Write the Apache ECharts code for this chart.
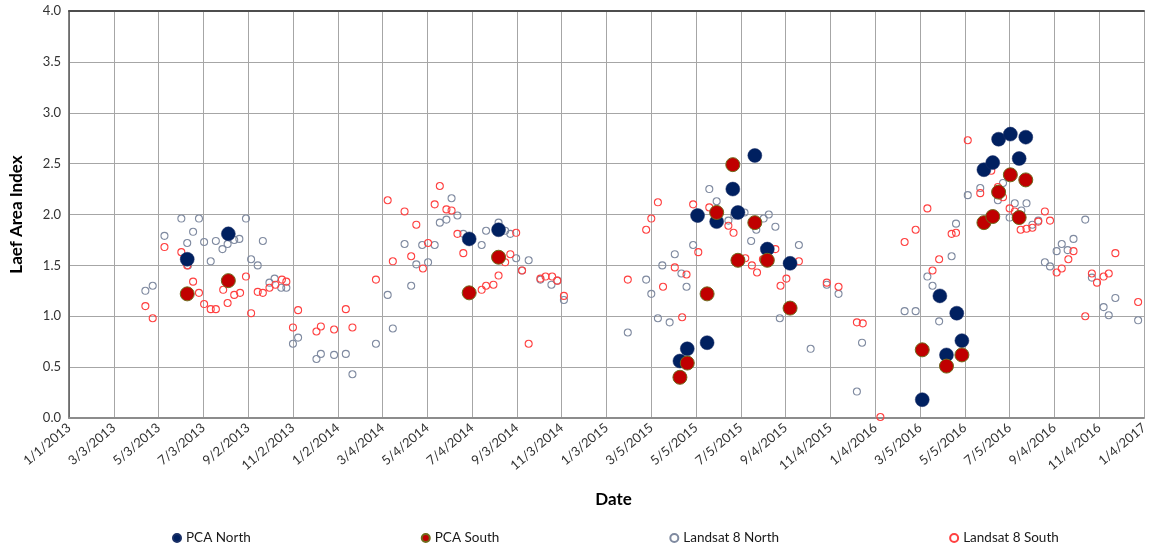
<!DOCTYPE html>
<html>
<head>
<meta charset="utf-8">
<script src="https://cdn.jsdelivr.net/npm/echarts@6/dist/echarts.min.js"></script>
<style>
  html, body { margin: 0; padding: 0; background: #ffffff; }
  #chart { width: 1153px; height: 555px; }
</style>
</head>
<body>
<div id="chart"></div>
<script>
// Leaf area index: PCA estimates and Landsat 8 retrievals, north and south sites.

const pcaNorthDates = ['2013-06-11','2013-08-06','2014-06-30','2014-08-09',
  '2015-04-13','2015-04-23','2015-05-07','2015-05-20','2015-06-02','2015-06-24','2015-07-01','2015-07-24','2015-08-10','2015-09-10',
  '2016-03-08','2016-04-01','2016-04-10','2016-04-24','2016-05-01','2016-05-31','2016-06-12','2016-06-20','2016-07-06','2016-07-18','2016-07-27'];
const pcaNorthLai = [1.56,1.81,1.76,1.85,
  0.56,0.68,1.99,0.74,1.93,2.25,2.02,2.58,1.66,1.52,
  0.18,1.20,0.62,1.03,0.76,2.44,2.51,2.74,2.79,2.55,2.76];

const pcaSouthDates = ['2013-06-11','2013-08-06','2014-06-30','2014-08-09',
  '2015-04-13','2015-04-23','2015-05-20','2015-06-02','2015-06-24','2015-07-01','2015-07-24','2015-08-10','2015-09-10',
  '2016-03-08','2016-04-10','2016-05-01','2016-05-31','2016-06-12','2016-06-20','2016-07-06','2016-07-18','2016-07-27'];
const pcaSouthLai = [1.22,1.35,1.23,1.58,
  0.40,0.54,1.22,2.02,2.49,1.55,1.92,1.55,1.08,
  0.67,0.51,0.62,1.92,1.98,2.22,2.39,1.97,2.34];

const landsatNorthDates = [
  '2013-04-15','2013-04-25','2013-05-11','2013-06-03','2013-06-11','2013-06-12','2013-06-19','2013-06-27','2013-07-04','2013-07-13','2013-07-20','2013-07-29','2013-08-05','2013-08-14','2013-08-21','2013-08-30','2013-09-06','2013-09-15','2013-09-22','2013-10-01','2013-10-08','2013-10-17','2013-10-24','2013-11-02','2013-11-09','2013-12-04','2013-12-10','2013-12-28',
  '2014-01-13','2014-01-22','2014-02-23','2014-03-11','2014-03-18','2014-04-03','2014-04-12','2014-04-19','2014-04-27','2014-05-05','2014-05-14','2014-05-21','2014-05-30','2014-06-06','2014-06-14','2014-06-22','2014-07-17','2014-07-23','2014-08-09','2014-08-18','2014-08-25','2014-09-02','2014-09-10','2014-09-19','2014-10-05','2014-10-20','2014-10-28','2014-11-06',
  '2015-02-01','2015-02-26','2015-03-05','2015-03-14','2015-03-20','2015-03-30','2015-04-06','2015-04-15','2015-04-22','2015-05-01','2015-05-08','2015-05-23','2015-06-02','2015-06-18','2015-06-26','2015-07-10','2015-07-19','2015-07-26','2015-08-05','2015-08-12','2015-08-21','2015-08-27','2015-09-06','2015-09-22','2015-10-08','2015-10-30','2015-11-15','2015-12-10','2015-12-17',
  '2016-02-13','2016-02-28','2016-03-15','2016-03-22','2016-03-31','2016-04-17','2016-04-23','2016-05-09','2016-05-26','2016-06-10','2016-06-19','2016-06-26','2016-07-05','2016-07-12','2016-07-21','2016-07-28','2016-08-05','2016-08-13','2016-08-22','2016-08-29','2016-09-07','2016-09-14','2016-09-22','2016-09-30','2016-10-16','2016-10-25','2016-11-10','2016-11-17','2016-11-26','2016-12-27'];
const landsatNorthLai = [
  1.25,1.30,1.79,1.96,1.72,1.50,1.83,1.96,1.73,1.54,1.74,1.66,1.71,1.75,1.76,1.96,1.56,1.50,1.74,1.33,1.37,1.28,1.28,0.73,0.79,0.58,0.63,0.62,
  0.63,0.43,0.73,1.21,0.88,1.71,1.30,1.51,1.70,1.53,1.70,1.92,1.95,2.16,1.99,1.81,1.70,1.84,1.92,1.84,1.81,1.57,1.45,1.55,1.36,1.31,1.35,1.16,
  0.84,1.36,1.22,0.98,1.50,0.94,1.61,1.42,1.29,1.70,1.96,2.25,2.13,1.94,1.99,2.02,1.74,1.85,1.96,2.00,1.88,0.98,1.52,1.70,0.68,1.31,1.22,0.26,0.74,
  1.05,1.05,1.39,1.30,0.95,1.59,1.91,2.19,2.26,2.51,2.14,2.31,1.97,2.11,2.04,2.11,1.90,1.94,1.53,1.49,1.64,1.71,1.65,1.76,1.95,1.38,1.09,1.01,1.18,0.96];

const landsatSouthDates = [
  '2013-04-15','2013-04-25','2013-05-11','2013-06-03','2013-06-11','2013-06-19','2013-06-27','2013-07-04','2013-07-13','2013-07-20','2013-07-30','2013-08-05','2013-08-14','2013-08-22','2013-08-30','2013-09-06','2013-09-15','2013-09-22','2013-10-01','2013-10-09','2013-10-18','2013-10-24','2013-11-02','2013-11-09','2013-12-04','2013-12-10','2013-12-28',
  '2014-01-13','2014-01-22','2014-02-23','2014-03-11','2014-03-18','2014-04-03','2014-04-12','2014-04-19','2014-04-28','2014-05-05','2014-05-14','2014-05-21','2014-05-30','2014-06-06','2014-06-14','2014-06-22','2014-07-17','2014-07-23','2014-08-02','2014-08-09','2014-08-18','2014-08-25','2014-09-02','2014-09-10','2014-09-19','2014-10-05','2014-10-12','2014-10-21','2014-10-28','2014-11-06',
  '2015-02-01','2015-02-26','2015-03-05','2015-03-14','2015-03-21','2015-04-06','2015-04-16','2015-04-22','2015-05-01','2015-05-08','2015-05-23','2015-06-18','2015-06-25','2015-07-11','2015-07-20','2015-07-27','2015-08-04','2015-08-21','2015-08-28','2015-09-05','2015-09-22','2015-10-30','2015-11-15','2015-12-10','2015-12-18',
  '2016-01-11','2016-02-13','2016-02-28','2016-03-15','2016-03-22','2016-03-31','2016-04-17','2016-04-23','2016-05-09','2016-05-26','2016-06-10','2016-06-19','2016-06-26','2016-07-05','2016-07-12','2016-07-20','2016-07-28','2016-08-05','2016-08-13','2016-08-22','2016-08-29','2016-09-07','2016-09-14','2016-09-23','2016-09-30','2016-10-16','2016-10-25','2016-11-01','2016-11-10','2016-11-17','2016-11-26','2016-12-27'];
const landsatSouthLai = [
  1.10,0.98,1.68,1.63,1.50,1.34,1.23,1.12,1.07,1.07,1.26,1.13,1.21,1.23,1.39,1.03,1.24,1.23,1.28,1.31,1.36,1.34,0.89,1.06,0.85,0.90,0.87,
  1.07,0.89,1.36,2.14,1.54,2.03,1.59,1.90,1.47,1.72,2.10,2.28,2.05,2.04,1.81,1.62,1.26,1.30,1.31,1.40,1.53,1.61,1.82,1.45,0.73,1.37,1.39,1.39,1.35,1.20,
  1.36,1.85,1.96,2.12,1.29,1.48,0.99,1.41,2.10,1.63,2.07,1.89,1.82,1.57,1.50,1.43,1.56,1.66,1.30,1.37,1.54,1.33,1.29,0.94,0.93,
  0.01,1.73,1.85,2.06,1.45,1.56,1.81,1.82,2.73,2.21,2.43,2.27,2.17,2.06,2.03,1.85,1.86,1.87,1.93,2.03,1.94,1.43,1.47,1.56,1.64,1.00,1.42,1.33,1.39,1.42,1.62,1.14];

// Date axis: days counted from the first tick, one tick every 61 days.
const AXIS_START = '2013-01-01';
const AXIS_END = '2017-01-04';
const TICK_DAYS = 61;

const DAY_MS = 86400000;
function utc(s) { const p = s.split('-').map(Number); return Date.UTC(p[0], p[1] - 1, p[2]); }
const EPOCH = utc(AXIS_START);
function dayOf(s) { return Math.round((utc(s) - EPOCH) / DAY_MS); }
function dayLabel(n) {
  const t = new Date(EPOCH + n * DAY_MS);
  return (t.getUTCMonth() + 1) + '/' + t.getUTCDate() + '/' + t.getUTCFullYear();
}
function pairs(dates, vals) { return dates.map((d, i) => [dayOf(d), vals[i]]); }

const FONT = 'Lato, "Open Sans", sans-serif';
const chart = echarts.init(document.getElementById('chart'), null, { renderer: 'canvas' });

chart.setOption({
  animation: false,
  backgroundColor: '#ffffff',
  textStyle: { fontFamily: FONT },
  grid: { left: 65, right: 9, top: 11, bottom: 137, containLabel: false },
  legend: {
    bottom: 5, left: 167,
    itemWidth: 8, itemHeight: 8, itemGap: 170,
    textStyle: { fontSize: 13.5, color: '#1a1a1a', fontFamily: FONT },
    data: ['PCA North', 'PCA South', 'Landsat 8 North', 'Landsat 8 South']
  },
  xAxis: [{
    type: 'value',
    min: 0, max: dayOf(AXIS_END), interval: TICK_DAYS,
    name: 'Date', nameLocation: 'middle', nameGap: 73,
    nameTextStyle: { fontSize: 17, fontWeight: 'bold', color: '#000000', fontFamily: FONT, padding: [0, 0, 0, 14] },
    axisLine: { show: true, lineStyle: { color: '#8c8c8c', width: 2 } },
    axisTick: { show: false },
    axisLabel: { formatter: dayLabel, rotate: 40, fontSize: 13, color: '#333333', margin: 8, fontFamily: FONT,
      showMinLabel: true, showMaxLabel: true },
    splitLine: { show: true, lineStyle: { color: '#a6a6a6', width: 1 } }
  }, {
    type: 'value', position: 'top',
    min: 0, max: dayOf(AXIS_END),
    axisLine: { show: true, onZero: false, lineStyle: { color: '#4d4d4d', width: 2 } },
    axisTick: { show: false }, axisLabel: { show: false }, splitLine: { show: false }
  }],
  yAxis: {
    type: 'value', min: 0, max: 4, interval: 0.5,
    name: 'Laef Area Index', nameLocation: 'middle', nameGap: 44,
    nameTextStyle: { fontSize: 17, fontWeight: 'bold', color: '#000000', fontFamily: FONT },
    axisLine: { show: true, lineStyle: { color: '#595959', width: 1.5 } },
    axisTick: { show: false },
    axisLabel: { formatter: v => v.toFixed(1), fontSize: 13, color: '#333333', margin: 8, fontFamily: FONT },
    splitLine: { show: true, lineStyle: { color: '#a6a6a6', width: 1 } }
  },
  series: [
    {
      name: 'PCA North', type: 'scatter', z: 4,
      symbol: 'circle', symbolSize: 14,
      itemStyle: { color: '#002060', borderColor: '#1a2f66', borderWidth: 0.5, opacity: 1 },
      data: pairs(pcaNorthDates, pcaNorthLai)
    },
    {
      name: 'PCA South', type: 'scatter', z: 5,
      symbol: 'circle', symbolSize: 14,
      itemStyle: { color: '#c00000', borderColor: '#6f6a1c', borderWidth: 1, opacity: 1 },
      data: pairs(pcaSouthDates, pcaSouthLai)
    },
    {
      name: 'Landsat 8 North', type: 'scatter', z: 2,
      symbol: 'circle', symbolSize: 7,
      itemStyle: { color: 'rgba(255,255,255,0)', borderColor: '#7f8aa0', borderWidth: 1.1, opacity: 1 },
      data: pairs(landsatNorthDates, landsatNorthLai)
    },
    {
      name: 'Landsat 8 South', type: 'scatter', z: 3,
      symbol: 'circle', symbolSize: 7,
      itemStyle: { color: 'rgba(255,255,255,0)', borderColor: '#ff4040', borderWidth: 1.1, opacity: 1 },
      data: pairs(landsatSouthDates, landsatSouthLai)
    }
  ]
});
</script>
</body>
</html>
